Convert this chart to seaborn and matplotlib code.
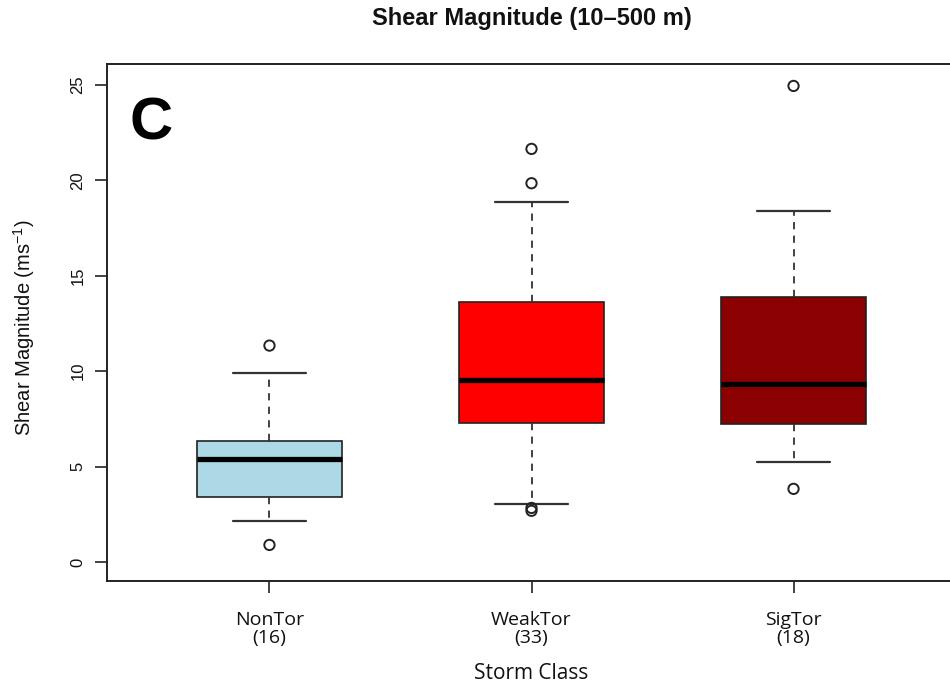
import numpy as np
import pandas as pd
import matplotlib
matplotlib.use("Agg")
import matplotlib.pyplot as plt
import seaborn as sns

# ---- data ----
CLASSES = ["NonTor", "WeakTor", "SigTor"]
COUNTS = [16, 33, 18]
WHISK_LO = [2.15, 3.04, 5.24]
Q1 = [3.42, 7.30, 7.23]
MEDIAN = [5.40, 9.54, 9.33]
Q3 = [6.34, 13.61, 13.89]
WHISK_HI = [9.89, 18.88, 18.40]
OUTLIER_CLASS = ["NonTor", "NonTor", "WeakTor", "WeakTor", "WeakTor", "WeakTor", "SigTor", "SigTor"]
OUTLIER_VALUE = [11.34, 0.89, 21.65, 19.85, 2.83, 2.68, 24.95, 3.83]
BOX_COLORS = ["#ADD8E6", "#FF0000", "#8B0000"]
Y_TICKS = [0, 5, 10, 15, 20, 25]
TITLE = "Shear Magnitude (10\u2013500 m)"
PANEL = "C"

sns.set_theme(style="white")
plt.rcParams["font.family"] = ["Liberation Sans", "DejaVu Sans"]
plt.rcParams["mathtext.fontset"] = "custom"
plt.rcParams["mathtext.rm"] = "Liberation Sans"
plt.rcParams["mathtext.it"] = "Liberation Sans:italic"
plt.rcParams["mathtext.bf"] = "Liberation Sans:bold"
plt.rcParams["mathtext.default"] = "regular"

W, H = 950, 686
fig = plt.figure(figsize=(W / 100, H / 100), dpi=100)
fig.patch.set_facecolor("white")
ax = fig.add_axes([107 / W, 105 / H, 849 / W, 517 / H])
ax.set_facecolor("white")

positions = list(range(len(CLASSES)))
stats = [
    dict(whislo=lo, q1=a, med=m, q3=b, whishi=hi, fliers=[])
    for lo, a, m, b, hi in zip(WHISK_LO, Q1, MEDIAN, Q3, WHISK_HI)
]
bp = ax.bxp(
    stats, positions=positions, widths=0.555, capwidths=0.28,
    patch_artist=True, showfliers=False,
    boxprops=dict(edgecolor="#222222", linewidth=1.2),
    medianprops=dict(color="black", linewidth=3.8, solid_capstyle="butt"),
    whiskerprops=dict(color="#333333", linewidth=1.3, linestyle=(0, (4, 3.5))),
    capprops=dict(color="#333333", linewidth=1.6),
)
for patch, col in zip(bp["boxes"], BOX_COLORS):
    patch.set_facecolor(col)

out_x = [CLASSES.index(c) for c in OUTLIER_CLASS]
sns.scatterplot(x=out_x, y=OUTLIER_VALUE, ax=ax, marker="o", s=55,
                facecolors="none", edgecolors="#222222", linewidths=1.4,
                legend=False, zorder=5)

ax.set_xlim(-0.62, 2.62)
ax.set_ylim(-1.0, 26.1)

ax.set_xticks(positions)
ax.set_xticklabels([f"{c}\n({n})" for c, n in zip(CLASSES, COUNTS)],
                   family=["Open Sans", "DejaVu Sans"], fontsize=14,
                   linespacing=0.98, color="#111111")
ax.set_yticks(Y_TICKS)
ax.set_yticklabels([str(t) for t in Y_TICKS], fontsize=12, rotation=90,
                   va="center", color="#111111")
ax.tick_params(axis="both", direction="out", length=8.6, width=1.2,
               color="#222222", bottom=True, left=True)
ax.tick_params(axis="y", pad=7)
ax.tick_params(axis="x", pad=13)

for side in ["left", "top", "bottom", "right"]:
    ax.spines[side].set_visible(True)
    ax.spines[side].set_color("#222222")
    ax.spines[side].set_linewidth(1.4)

ax.set_ylabel(r"Shear Magnitude (ms$^{-1}$)", fontsize=14.5, va="center",
              color="#111111")
ax.yaxis.set_label_coords(-0.098, 0.49)
ax.set_xlabel("Storm Class", family=["Open Sans", "DejaVu Sans"],
              fontsize=15, va="baseline", color="#111111")
ax.xaxis.set_label_coords(0.5, -0.19)

ax.set_title(TITLE, fontsize=17, fontweight="bold", y=1.0754, pad=0,
             va="baseline", color="#111111")
ax.text(0.027, 0.853, PANEL, transform=ax.transAxes, fontsize=43,
        fontweight="bold", ha="left", va="baseline", color="black")

fig.savefig("out.png", dpi=100, facecolor="white")
